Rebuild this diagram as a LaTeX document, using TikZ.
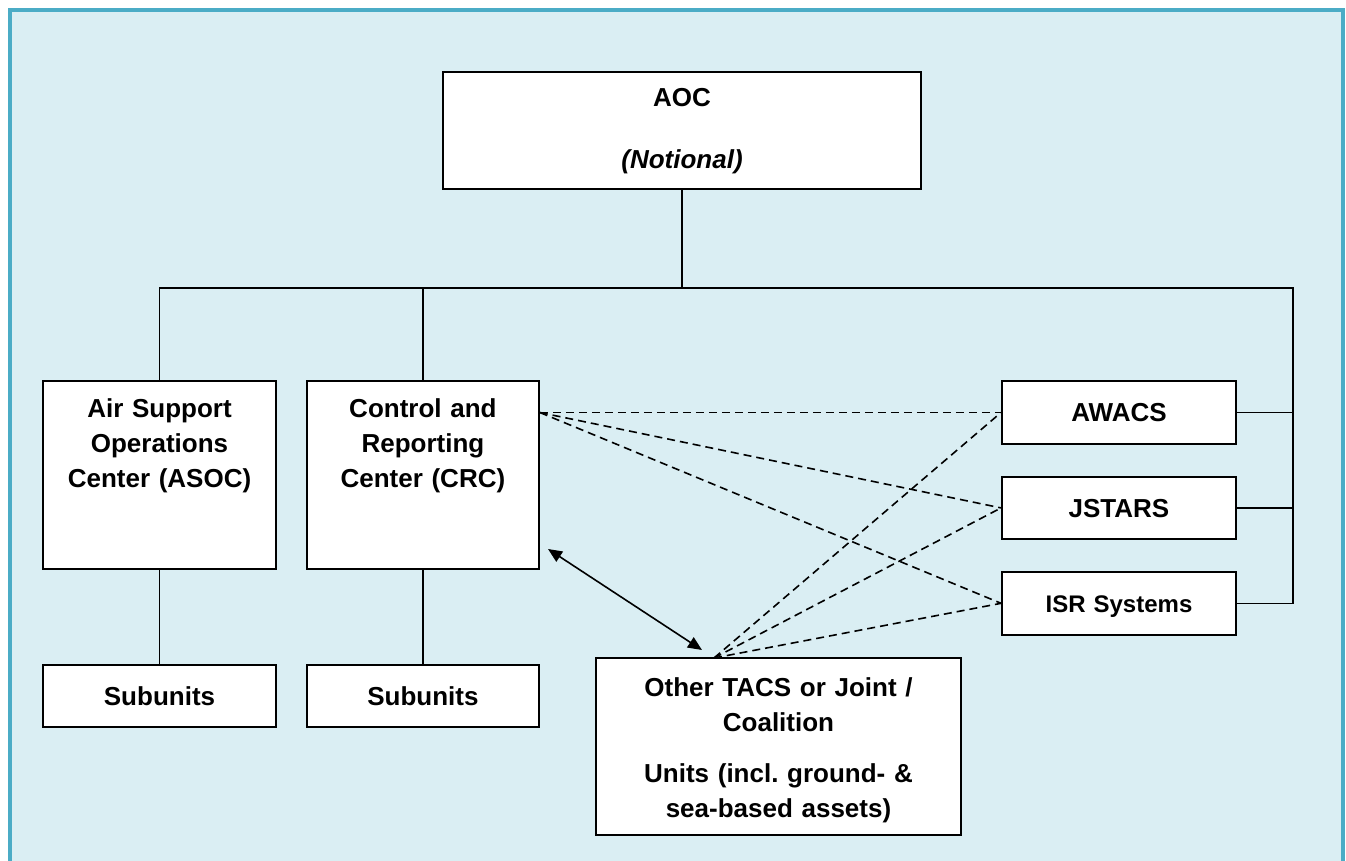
\documentclass[tikz,border=0pt]{standalone}
\usepackage{fontspec}
\setmainfont{Liberation Sans}
\usepackage{tikz}
\usetikzlibrary{arrows.meta, positioning}

\definecolor{panelblue}{HTML}{DAEEF3}
\definecolor{edgeblue}{HTML}{4BACC6}

\tikzset{
  unitbox/.style={draw=black, fill=white, line width=1.9pt, inner sep=0pt, align=center,
    font=\fontsize{26}{35}\selectfont\bfseries},
  smallbox/.style={unitbox, text width=233pt, minimum height=62pt, text height=18.6pt, text depth=0pt},
  link/.style={line width=1.6pt},
  dashlink/.style={line width=1.6pt, dash pattern=on 8pt off 5pt},
  headtip/.tip={Triangle[length=14pt, width=12pt]}
}

\begin{document}
\begin{tikzpicture}[x=1pt, y=-1pt]
    \useasboundingbox (0,0) rectangle (1346,861);

    % Draw panel
    \begin{scope}
      \clip (0,0) rectangle (1346,861);
      \draw[edgeblue, fill=panelblue, line width=4pt] (10,10) rectangle (1343,890);
    \end{scope}

    % Draw boxes
    \node[unitbox, text width=478pt, text height=35pt, text depth=82pt] (aoc) at (682,130.5)
      {AOC\\[27pt]\textit{(Notional)}};
    \node[unitbox, text width=233pt, text height=36pt, text depth=152pt] (asoc) at (159.5,475)
      {Air Support\\Operations\\Center (ASOC)};
    \node[unitbox, text width=232pt, text height=36pt, text depth=152pt, right=29pt of asoc] (crc)
      {Control and\\Reporting\\Center (CRC)};
    \node[smallbox, below=94pt of asoc] (subasoc) {Subunits};
    \node[smallbox, text width=232pt, below=94pt of crc] (subcrc) {Subunits};
    \node[smallbox, text width=234pt, minimum height=63pt] (awacs) at (1119,412.5) {AWACS};
    \node[smallbox, text width=234pt, below=31pt of awacs] (jstars) {JSTARS};
    \node[smallbox, text width=234pt, minimum height=63pt, below=31pt of jstars,
      font=\fontsize{24}{30}\selectfont\bfseries] (isr) {ISR Systems};
    \node[unitbox, text width=365pt, text height=38pt, text depth=139pt] (other) at (778.5,746.5)
      {Other TACS or Joint /\\Coalition\\[16pt]Units (incl.\ ground- \&\\sea-based assets)};

    % Draw tree lines
    \coordinate (busL) at (159.5,288);
    \coordinate (busR) at (1293,288);
    \draw[link] (aoc.south) -- (aoc.south |- busL);
    \draw[link] (asoc.north) -- (busL) -- (busR) -- (busR |- isr.east) -- (isr.east);
    \draw[link] (crc.north) -- (crc.north |- busL);
    \draw[link] (awacs.east) -- (awacs.east -| busR);
    \draw[link] (jstars.east) -- (jstars.east -| busR);
    \draw[link] (asoc.south) -- (subasoc.north);
    \draw[link] (crc.south) -- (subcrc.north);

    % Dashed links
    \coordinate (crcport) at (crc.east |- awacs.west);
    \coordinate (otherport) at (714,658);
    \foreach \s in {awacs, jstars, isr} {
      \draw[dashlink] (crcport) -- (\s.west);
      \draw[dashlink] (otherport) -- (\s.west);
    }

    % Two-way link
    \coordinate (arrA) at (548,549);
    \coordinate (arrB) at (702,650);
    \draw[link, {headtip}-{headtip}] (arrA) -- (arrB);
\end{tikzpicture}
\end{document}
